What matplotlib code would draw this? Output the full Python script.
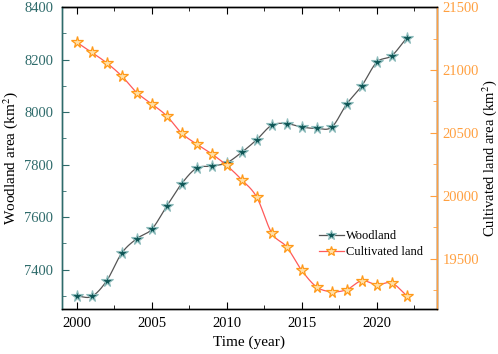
import numpy as np
import matplotlib.pyplot as plt

plt.rcParams['font.family'] = ['Liberation Serif', 'DejaVu Serif']
plt.rcParams['mathtext.fontset'] = 'stix'

years = list(range(2000, 2023))
woodland = [7300, 7298, 7358, 7463, 7518, 7554, 7642, 7728, 7787, 7794, 7807,
            7847, 7895, 7950, 7956, 7943, 7938, 7943, 8031, 8100, 8190, 8215, 8283]
cultivated = [21220, 21140, 21056, 20952, 20820, 20730, 20635, 20497, 20410, 20333, 20241,
              20127, 19989, 19704, 19593, 19407, 19275, 19238, 19254, 19325, 19293, 19307, 19206]

teal = '#2e6b6b'
orange = '#ffa040'


def smooth(x, y, n=20):
    # catmull-rom curve through the points, just for the look of the line
    x = np.asarray(x, float)
    y = np.asarray(y, float)
    px = np.concatenate([[2 * x[0] - x[1]], x, [2 * x[-1] - x[-2]]])
    py = np.concatenate([[2 * y[0] - y[1]], y, [2 * y[-1] - y[-2]]])
    xs, ys = [], []
    t = np.linspace(0, 1, n, endpoint=False)
    for i in range(1, len(px) - 2):
        for p, out in ((px, xs), (py, ys)):
            p0, p1, p2, p3 = p[i - 1], p[i], p[i + 1], p[i + 2]
            out.extend(0.5 * (2 * p1 + (-p0 + p2) * t + (2 * p0 - 5 * p1 + 4 * p2 - p3) * t ** 2
                              + (-p0 + 3 * p1 - 3 * p2 + p3) * t ** 3))
    xs.append(x[-1])
    ys.append(y[-1])
    return xs, ys


fig = plt.figure(figsize=(4.98, 3.54), dpi=100)
ax = fig.add_axes([0.124, 0.127, 0.753, 0.853])
ax2 = ax.twinx()

sx, sy = smooth(years, woodland)
ax.plot(sx, sy, color='#555555', lw=0.9)
ax.plot(years, woodland, ls='none', marker='*', ms=8.5, mfc='#0e5656', mec='#8fbdbd', mew=0.8)
h1, = ax.plot([], [], color='#555555', lw=0.9, marker='*', ms=7, mfc='#0e5656', mec='#8fbdbd',
              mew=0.8, label='Woodland')

sx, sy = smooth(years, cultivated)
ax2.plot(sx, sy, color='#ff5a5a', lw=0.9)
ax2.plot(years, cultivated, ls='none', marker='*', ms=8.5, mfc='#ffe0a8', mec='#ff9a1a', mew=0.9)
h2, = ax2.plot([], [], color='#ff5a5a', lw=0.9, marker='*', ms=7, mfc='#ffe0a8', mec='#ff9a1a',
               mew=0.9, label='Cultivated land')

ax.set_xlim(1999, 2024)
ax.set_ylim(7250, 8400)
ax2.set_ylim(19100, 21500)

ax.set_xticks([2000, 2005, 2010, 2015, 2020])
ax.set_xticks(np.arange(2002.5, 2024, 5), minor=True)
ax.set_yticks([7400, 7600, 7800, 8000, 8200, 8400])
ax.set_yticks([7300, 7500, 7700, 7900, 8100, 8300], minor=True)
ax2.set_yticks([19500, 20000, 20500, 21000, 21500])
ax2.set_yticks([19250, 19750, 20250, 20750, 21250], minor=True)

ax.tick_params(axis='both', which='both', direction='in', labelsize=10.5, top=True)
ax.tick_params(which='major', length=5, pad=6)
ax.tick_params(which='minor', length=3)
ax.tick_params(axis='y', which='both', colors=teal)
ax2.tick_params(axis='y', which='both', direction='in', colors=orange, labelsize=10.5)
ax2.tick_params(which='major', length=5, pad=4)
ax2.tick_params(which='minor', length=3)

ax.spines['left'].set_color(teal)
ax.spines['bottom'].set_color('#222222')
ax2.spines['left'].set_color(teal)
ax2.spines['right'].set_color(orange)
for a in (ax, ax2):
    for s in a.spines.values():
        s.set_linewidth(1.0)

ax.set_xlabel('Time (year)', fontsize=11, labelpad=4)
ax.set_ylabel('Woodland area (km$^2$)', fontsize=11, labelpad=3)
ax2.set_ylabel('Cultivated land area (km$^2$)', fontsize=10.5, labelpad=1)

ax2.legend(handles=[h1, h2], loc='center left', bbox_to_anchor=(0.655, 0.215), frameon=False,
           fontsize=9, handlelength=2.0, handletextpad=0.2, labelspacing=0.3)

fig.savefig('out.png', dpi=100)
